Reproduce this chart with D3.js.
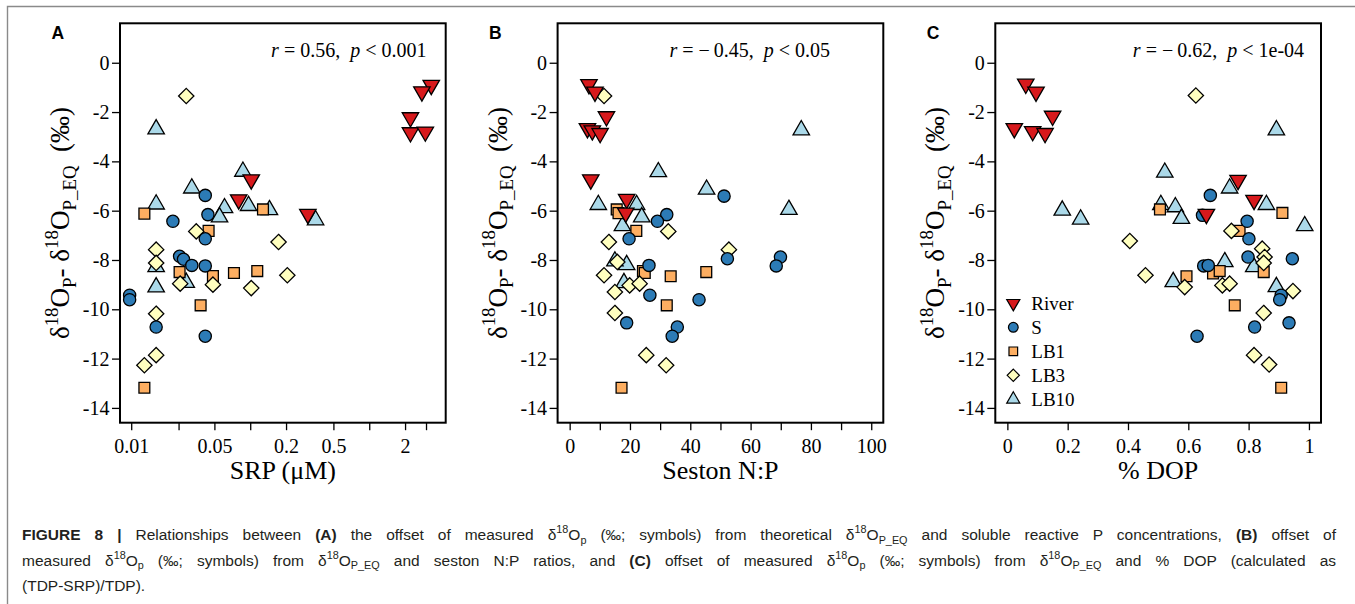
<!DOCTYPE html>
<html>
<head>
<meta charset="utf-8">
<script src="https://cdn.jsdelivr.net/npm/d3@7"></script>
<style>
  body { margin: 0; background: #fff; }
  svg { display: block; }
</style>
</head>
<body>
<svg id="fig" width="1355" height="604"></svg>
<script>
// ---------------- data ----------------
const groups = ["River", "S", "LB1", "LB3", "LB10"];

// Panel A: SRP (µM), offset (‰)
const srpRiver = [[3.32,-0.91],[2.77,-1.17],[2.22,-2.22],[2.22,-2.83],[2.96,-2.80],[0.102,-4.74],[0.080,-5.55],[0.305,-6.14]];
const srpS     = [[0.0419,-5.38],[0.0441,-6.16],[0.0224,-6.43],[0.0419,-7.14],[0.0255,-7.85],[0.0275,-7.97],[0.0323,-8.22],[0.0419,-8.24],[0.0097,-9.43],[0.0097,-9.61],[0.0162,-10.72],[0.0419,-11.09]];
const srpLB1   = [[0.0129,-6.12],[0.128,-5.95],[0.0447,-6.82],[0.0255,-8.49],[0.0486,-8.65],[0.073,-8.53],[0.1146,-8.45],[0.0383,-9.84],[0.0129,-13.18]];
const srpLB3   = [[0.029,-1.35],[0.0352,-6.84],[0.173,-7.27],[0.0162,-7.58],[0.0162,-8.12],[0.0258,-8.96],[0.0486,-9.0],[0.102,-9.14],[0.205,-8.62],[0.0162,-10.18],[0.0162,-11.86],[0.0129,-12.27]];
const srpLB10  = [[0.0162,-2.69],[0.0868,-4.41],[0.0323,-5.09],[0.0162,-5.74],[0.0608,-5.89],[0.0968,-5.80],[0.145,-5.97],[0.0552,-6.26],[0.354,-6.38],[0.0162,-8.28],[0.0162,-9.10],[0.029,-8.92]];

// Panel B: seston N:P, offset (‰)
const npRiver = [[6.4,-0.88],[8.4,-1.18],[12.2,-2.18],[5.9,-2.66],[7.5,-2.75],[10.1,-2.86],[7.0,-4.74],[18.9,-5.53],[18.6,-6.09]];
const npS     = [[51.2,-5.41],[32.2,-6.16],[29.1,-6.43],[19.7,-7.14],[26.3,-8.22],[52.3,-7.95],[69.9,-7.88],[68.5,-8.24],[26.6,-9.43],[42.9,-9.61],[35.7,-10.72],[34.0,-11.09],[18.9,-10.55]];
const npLB1   = [[15.6,-5.95],[16.2,-6.10],[22.1,-6.82],[24.3,-8.45],[24.9,-8.53],[33.5,-8.66],[45.3,-8.49],[32.2,-9.84],[17.2,-13.18]];
const npLB3   = [[11.4,-1.35],[32.7,-6.84],[13.0,-7.27],[52.8,-7.58],[15.8,-8.08],[11.4,-8.62],[15.0,-9.30],[19.9,-9.03],[23.2,-8.96],[15.0,-10.15],[25.4,-11.86],[32.0,-12.27]];
const npLB10  = [[76.8,-2.73],[29.4,-4.43],[45.4,-5.14],[9.5,-5.76],[22.2,-5.76],[23.9,-6.26],[72.7,-5.96],[17.5,-6.62],[18.9,-8.20],[18.0,-8.93],[15.0,-8.05]];

// Panel C: % DOP (fraction), offset (‰)
const dopRiver = [[0.061,-0.86],[0.095,-1.18],[0.150,-2.16],[0.023,-2.66],[0.084,-2.78],[0.125,-2.86],[0.765,-4.76],[0.818,-5.57],[0.660,-6.14]];
const dopS     = [[0.673,-5.38],[0.647,-6.19],[0.795,-6.43],[0.801,-7.14],[0.798,-7.88],[0.945,-7.95],[0.651,-8.24],[0.666,-8.22],[0.908,-9.43],[0.903,-9.61],[0.934,-10.55],[0.820,-10.72],[0.629,-11.09]];
const dopLB1   = [[0.506,-5.95],[0.912,-6.09],[0.770,-6.82],[0.682,-8.55],[0.704,-8.45],[0.594,-8.66],[0.850,-8.49],[0.754,-9.84],[0.908,-13.18]];
const dopLB3   = [[0.625,-1.33],[0.743,-6.82],[0.406,-7.23],[0.845,-7.54],[0.853,-7.88],[0.850,-8.12],[0.458,-8.62],[0.588,-9.10],[0.713,-9.03],[0.737,-8.96],[0.947,-9.26],[0.850,-10.15],[0.818,-11.86],[0.868,-12.24]];
const dopLB10  = [[0.892,-2.73],[0.522,-4.45],[0.737,-5.09],[0.509,-5.76],[0.557,-5.85],[0.577,-6.32],[0.859,-5.76],[0.182,-5.99],[0.243,-6.35],[0.986,-6.62],[0.721,-8.08],[0.817,-8.28],[0.550,-8.89],[0.892,-9.09]];

// axis ticks and labels
const yTicks = [0, -2, -4, -6, -8, -10, -12, -14];
const srpTicks = [0.01, 0.025, 0.05, 0.1, 0.2, 0.5, 1, 2, 3];
const srpTickLabels = ["0.01", "", "0.05", "", "0.2", "0.5", "", "2", ""];
const npTicks = [0, 10, 20, 30, 40, 50, 60, 70, 80, 90, 100];
const npTickLabels = ["0", "", "20", "", "40", "", "60", "", "80", "", "100"];
const dopTicks = [0, 0.2, 0.4, 0.6, 0.8, 1];
const dopTickLabels = ["0", "0.2", "0.4", "0.6", "0.8", "1"];

// correlation statistics
const statR = ["0.56", "\u2212\u20090.45", "\u2212\u20090.62"];
const statP = ["0.001", "0.05", "1e-04"];

// ---------------- styling ----------------
const serif = "'Liberation Serif', 'Times New Roman', serif";
const sans = "'Liberation Sans', Arial, Helvetica, sans-serif";
const fillOf = { River: "#D7191C", S: "#2C7BB6", LB1: "#FDAE61", LB3: "#FFFFBF", LB10: "#ABD9E9" };
const shapeOf = { River: "tridown", S: "circle", LB1: "square", LB3: "diamond", LB10: "triup" };
const drawOrder = ["LB10", "LB1", "LB3", "S", "River"];

// R-style filled plotting symbols (pch 21-25), s = symbol size in px
function symbolPath(shape, s) {
  const R = 0.375 * s;
  if (shape === "circle") {
    return `M${R},0A${R},${R} 0 1,1 ${-R},0A${R},${R} 0 1,1 ${R},0Z`;
  }
  if (shape === "square") {
    const h = R * 0.886;
    return `M${-h},${-h}H${h}V${h}H${-h}Z`;
  }
  if (shape === "diamond") {
    const d = R * 1.2533;
    return `M0,${-d}L${d},0L0,${d}L${-d},0Z`;
  }
  const r = 1.5551 * R, yc = 0.7776 * R, xc = 1.3468 * R;
  if (shape === "triup") return `M0,${-r}L${xc},${yc}L${-xc},${yc}Z`;
  return `M0,${r}L${xc},${-yc}L${-xc},${-yc}Z`;
}

// rich text with super/subscripts, bold and italic runs
function rich(textSel, segs, fs) {
  let shift = 0;
  segs.forEach(sg => {
    const t = textSel.append("tspan").text(sg.t);
    let target = 0, size = fs;
    if (sg.sup) { target = -0.42 * fs; size = 0.7 * fs; }
    if (sg.sub) { target = 0.25 * fs; size = 0.7 * fs; }
    if (size !== fs) t.attr("font-size", size);
    if (target !== shift) { t.attr("dy", target - shift); shift = target; }
    if (sg.b) t.attr("font-weight", "bold");
    if (sg.i) t.attr("font-style", "italic");
  });
}

const svg = d3.select("#fig");

// frame around the figure
svg.append("path")
  .attr("d", "M7.5,604V6.5H1355")
  .attr("fill", "none").attr("stroke", "#8a8a8a").attr("stroke-width", 1.4);

const plotTop = 23.3, plotBottom = 422.7, plotW = 325.7;
const y = d3.scaleLinear().domain([-14.6, 1.6]).range([plotBottom, plotTop]);

const panels = [
  { letter: "A", left: 120, scale: d3.scaleLog().domain([0.00805, 4.39]),
    ticks: srpTicks, labels: srpTickLabels, title: "SRP (\u03BCM)", statX: 0.673,
    data: { River: srpRiver, S: srpS, LB1: srpLB1, LB3: srpLB3, LB10: srpLB10 } },
  { letter: "B", left: 557.6, scale: d3.scaleLinear().domain([-4, 104]),
    ticks: npTicks, labels: npTickLabels, title: "Seston N:P", statX: 59.7,
    data: { River: npRiver, S: npS, LB1: npLB1, LB3: npLB3, LB10: npLB10 } },
  { letter: "C", left: 995.3, scale: d3.scaleLinear().domain([-0.04, 1.04]),
    ticks: dopTicks, labels: dopTickLabels, title: "% DOP", statX: 0.70, legend: true,
    data: { River: dopRiver, S: dopS, LB1: dopLB1, LB3: dopLB3, LB10: dopLB10 } }
];

panels.forEach((p, pi) => {
  const x = p.scale.copy().range([p.left, p.left + plotW]);
  const g = svg.append("g");

  // axes
  const yAxis = g.append("g").attr("transform", `translate(${p.left},0)`)
    .call(d3.axisLeft(y).tickValues(yTicks).tickSize(8).tickPadding(2.5).tickFormat(d => String(d)));
  const xAxis = g.append("g").attr("transform", `translate(0,${plotBottom})`)
    .call(d3.axisBottom(x).tickValues(p.ticks).tickSize(7.5).tickPadding(8.5)
      .tickFormat((d, i) => p.labels[i]));
  [yAxis, xAxis].forEach(a => {
    a.select(".domain").remove();
    a.selectAll(".tick line").attr("stroke", "#000").attr("stroke-width", 1.3);
    a.selectAll(".tick text").attr("fill", "#000")
      .style("font-family", serif).style("font-size", "20px");
  });

  // plotted points
  drawOrder.forEach(grp => {
    g.append("g").selectAll("path").data(p.data[grp]).join("path")
      .attr("d", symbolPath(shapeOf[grp], 16.3))
      .attr("transform", d => `translate(${x(d[0])},${y(d[1])})`)
      .attr("fill", fillOf[grp]).attr("stroke", "#000").attr("stroke-width", 1.3);
  });

  // plot box
  g.append("rect").attr("x", p.left).attr("y", plotTop)
    .attr("width", plotW).attr("height", plotBottom - plotTop)
    .attr("fill", "none").attr("stroke", "#000").attr("stroke-width", 2);

  // correlation label
  const st = g.append("text").attr("x", x(p.statX)).attr("y", y(0.5) + 6.3)
    .attr("text-anchor", "middle").style("font-family", serif).style("font-size", "20px")
    .style("white-space", "pre");
  rich(st, [{ t: "r", i: true }, { t: " = " + statR[pi] + ",  " }, { t: "p", i: true }, { t: " < " + statP[pi] }], 20);

  // x axis title
  g.append("text").attr("x", p.left + plotW / 2).attr("y", 479)
    .attr("text-anchor", "middle").style("font-family", serif).style("font-size", "26px")
    .text(p.title);

  // y axis title
  const yt = g.append("text")
    .attr("transform", `translate(${p.left - 51},${(plotTop + plotBottom) / 2}) rotate(-90)`)
    .attr("text-anchor", "middle").style("font-family", serif).style("font-size", "27px")
    .style("white-space", "pre");
  rich(yt, [{ t: "\u03B4" }, { t: "18", sup: true }, { t: "O" }, { t: "P", sub: true }, { t: "- \u03B4" },
            { t: "18", sup: true }, { t: "O" }, { t: "P_EQ", sub: true }, { t: "  (\u2030)" }], 27);

  // panel letter
  g.append("text").attr("x", p.left - 68.5).attr("y", 39)
    .style("font-family", sans).style("font-size", "17.5px").style("font-weight", "bold")
    .text(p.letter);

  // legend
  if (p.legend) {
    const lg = g.append("g");
    groups.forEach((grp, i) => {
      const cy = 303.3 + i * 24;
      lg.append("path").attr("d", symbolPath(shapeOf[grp], 13))
        .attr("transform", `translate(${p.left + 18},${cy})`)
        .attr("fill", fillOf[grp]).attr("stroke", "#000").attr("stroke-width", 1.2);
      lg.append("text").attr("x", p.left + 36).attr("y", cy + 6.3)
        .style("font-family", serif).style("font-size", "19px").text(grp);
    });
  }
});

// ---------------- caption ----------------
const d18p = [{ t: "\u03B4" }, { t: "18", sup: true }, { t: "O" }, { t: "p", sub: true }];
const d18eq = [{ t: "\u03B4" }, { t: "18", sup: true }, { t: "O" }, { t: "P_EQ", sub: true }];
const captionLines = [
  [{ t: "FIGURE 8 |", b: true }, { t: " Relationships between " }, { t: "(A)", b: true },
   { t: " the offset of measured " }, ...d18p, { t: " (\u2030; symbols) from theoretical " }, ...d18eq,
   { t: " and soluble reactive P concentrations, " }, { t: "(B)", b: true }, { t: " offset of" }],
  [{ t: "measured " }, ...d18p, { t: " (\u2030; symbols) from " }, ...d18eq,
   { t: " and seston N:P ratios, and " }, { t: "(C)", b: true }, { t: " offset of measured " }, ...d18p,
   { t: " (\u2030; symbols) from " }, ...d18eq, { t: " and % DOP (calculated as" }],
  [{ t: "(TDP-SRP)/TDP)." }]
];
const capFs = 15.5, capLeft = 22, capRight = 1336;
captionLines.forEach((segs, i) => {
  const t = svg.append("text").attr("x", capLeft).attr("y", 540 + i * 25.5)
    .style("font-family", sans).style("font-size", capFs + "px").attr("fill", "#231f20")
    .style("white-space", "pre");
  rich(t, segs, capFs);
  // justify every line except the last one of the paragraph
  if (i < captionLines.length - 1) {
    const natural = t.node().getComputedTextLength();
    const spaces = segs.map(s => s.t).join("").split(" ").length - 1;
    if (spaces > 0) t.attr("word-spacing", (capRight - capLeft - natural) / spaces);
  }
});
</script>
</body>
</html>
